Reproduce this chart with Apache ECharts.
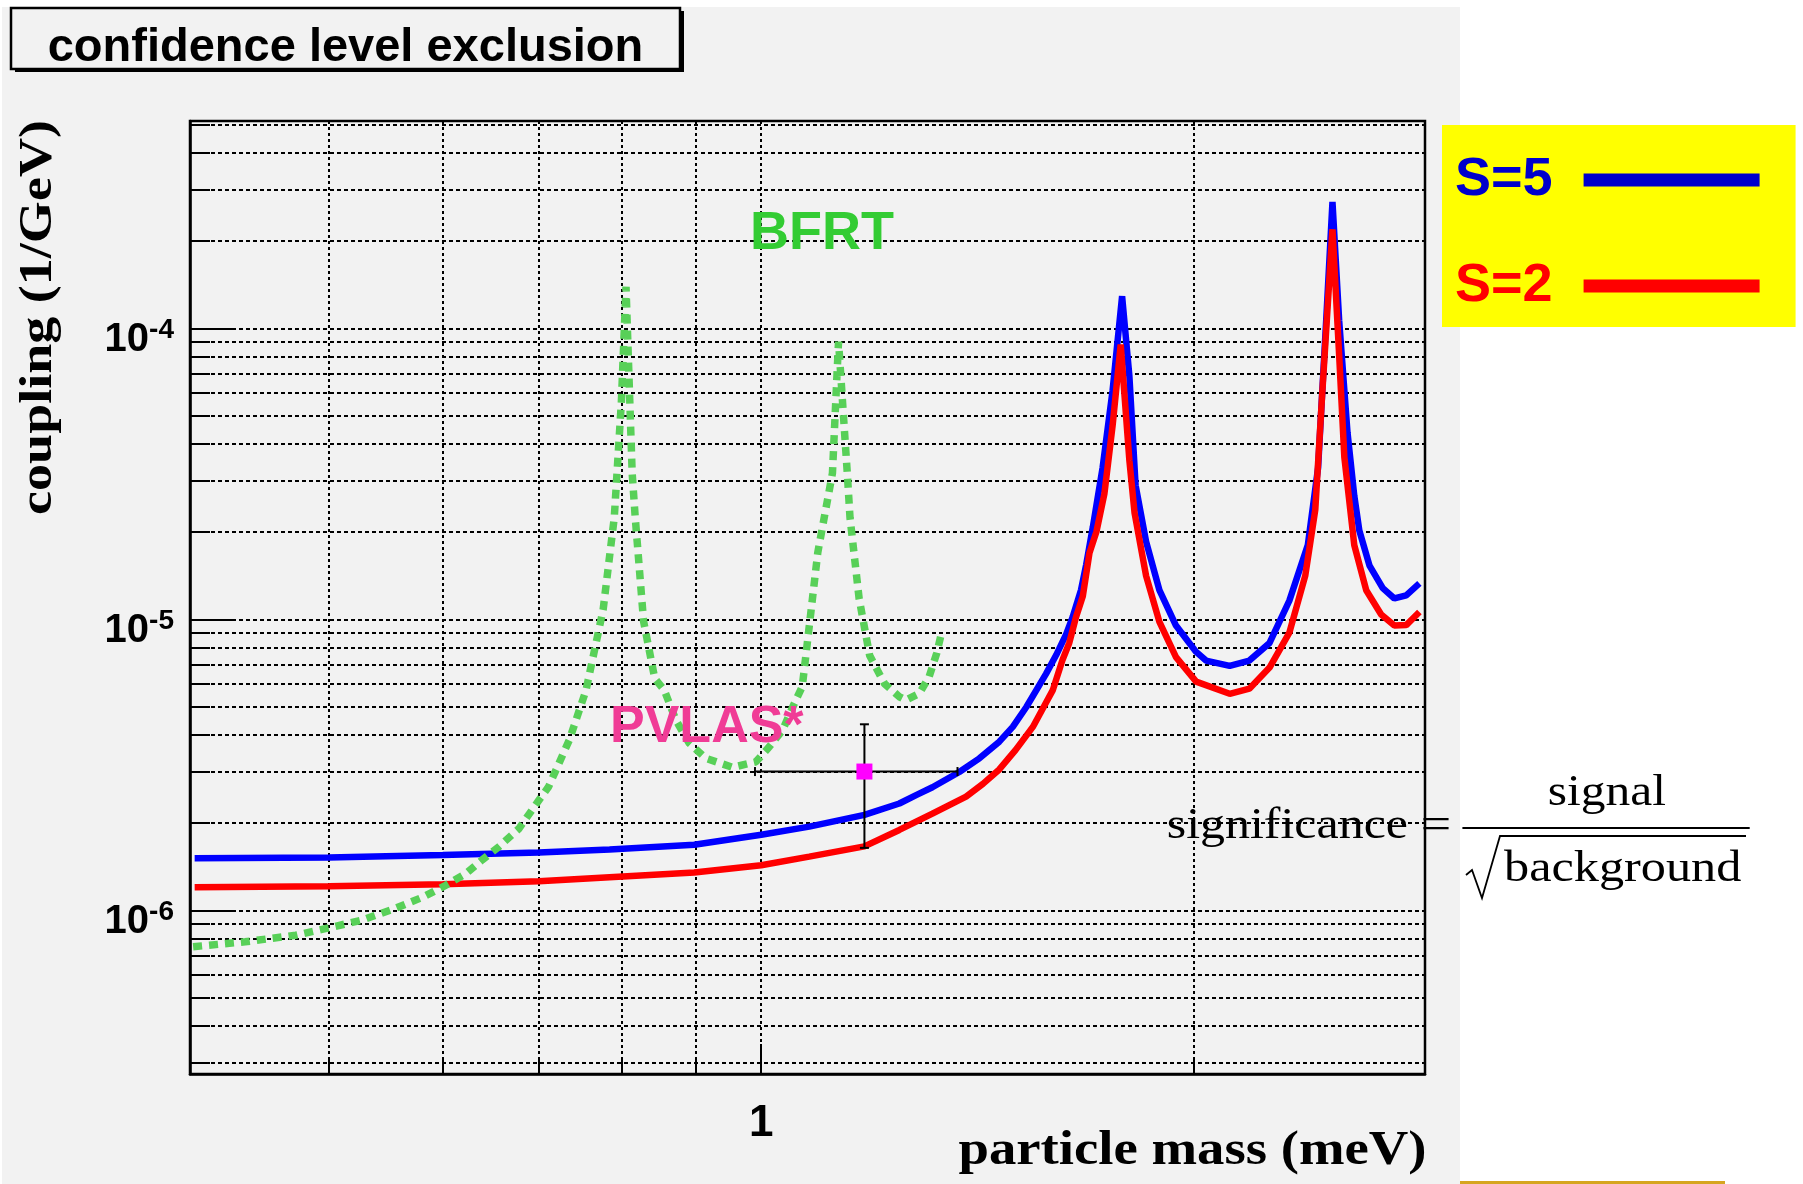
<!DOCTYPE html>
<html>
<head>
<meta charset="utf-8">
<script src="https://cdn.jsdelivr.net/npm/echarts@6/dist/echarts.min.js"></script>
<style>
html,body{margin:0;padding:0;background:#ffffff;}
#chart{width:1803px;height:1184px;}
</style>
</head>
<body>
<div id="chart"></div>
<script>
// ---------------- data ----------------
const massS5 = [0.403,0.50,0.60,0.70,0.784,0.898,1.0,1.080,1.18,1.248,1.282,1.316,1.374,1.419,1.465,1.497,1.53,1.579,1.605,1.631,1.648,1.670,1.684,1.702,1.729,1.757,1.784,1.805,1.823,1.854,1.894,1.945,2.009,2.041,2.12,2.188,2.26,2.333,2.403,2.443,2.475,2.50,2.527,2.561,2.589,2.61,2.653,2.71,2.761,2.814,2.874];
const couplingS5 = [1.51e-6,1.52e-6,1.55e-6,1.58e-6,1.62e-6,1.68e-6,1.82e-6,1.94e-6,2.13e-6,2.33e-6,2.49e-6,2.65e-6,2.99e-6,3.33e-6,3.8e-6,4.27e-6,5.0e-6,6.5e-6,7.54e-6,8.9e-6,1.02e-5,1.26e-5,1.54e-5,2.07e-5,3.32e-5,6.12e-5,1.29e-4,6.84e-5,2.89e-5,1.85e-5,1.26e-5,9.52e-6,7.73e-6,7.22e-6,6.92e-6,7.22e-6,8.3e-6,1.16e-5,1.8e-5,3.32e-5,1.07e-4,2.72e-4,1.065e-4,4.39e-5,2.66e-5,2.02e-5,1.53e-5,1.28e-5,1.18e-5,1.21e-5,1.33e-5];

const massS2 = [0.403,0.50,0.60,0.70,0.784,0.898,1.0,1.080,1.18,1.248,1.316,1.389,1.427,1.465,1.504,1.546,1.571,1.596,1.621,1.639,1.657,1.675,1.693,1.712,1.734,1.757,1.78,1.805,1.82,1.854,1.894,1.945,2.009,2.12,2.188,2.26,2.333,2.393,2.432,2.46,2.50,2.527,2.548,2.589,2.639,2.703,2.761,2.814,2.874];
const couplingS2 = [1.20e-6,1.21e-6,1.23e-6,1.26e-6,1.30e-6,1.35e-6,1.43e-6,1.53e-6,1.66e-6,1.89e-6,2.15e-6,2.46e-6,2.72e-6,3.05e-6,3.56e-6,4.27e-6,4.94e-6,5.7e-6,7.24e-6,8.3e-6,1.02e-5,1.2e-5,1.69e-5,2.0e-5,2.7e-5,4.63e-5,8.8e-5,3.51e-5,2.32e-5,1.41e-5,9.8e-6,7.42e-6,6.11e-6,5.55e-6,5.78e-6,6.83e-6,9.0e-6,1.41e-5,2.38e-5,6.12e-5,2.19e-4,8.07e-5,3.61e-5,1.8e-5,1.26e-5,1.04e-5,9.52e-6,9.56e-6,1.06e-5];

const massBFRT = [0.402,0.437,0.474,0.50,0.527,0.556,0.581,0.603,0.623,0.639,0.657,0.678,0.700,0.711,0.735,0.755,0.776,0.790,0.799,0.805,0.813,0.817,0.828,0.843,0.856,0.872,0.891,0.915,0.955,0.9915,1.013,1.035,1.057,1.068,1.095,1.121,1.132,1.148,1.153,1.170,1.19,1.219,1.248,1.261,1.289,1.309,1.325,1.336];
const couplingBFRT = [7.5e-7,7.8e-7,8.22e-7,8.71e-7,9.26e-7,1.016e-6,1.11e-6,1.22e-6,1.34e-6,1.49e-6,1.66e-6,1.91e-6,2.39e-6,2.66e-6,3.85e-6,5.71e-6,1.08e-5,2.24e-5,5.56e-5,1.39e-4,3.18e-5,2.24e-5,9.86e-6,6.26e-6,5.71e-6,4.51e-6,3.75e-6,3.33e-6,3.10e-6,3.24e-6,3.65e-6,4.17e-6,5.28e-6,5.87e-6,1.7e-5,3.18e-5,9.0e-5,3.18e-5,2.24e-5,1.18e-5,7.51e-6,6.0e-6,5.42e-6,5.28e-6,5.57e-6,6.35e-6,7.64e-6,9.07e-6];

// PVLAS point: mass, coupling, mass low, mass high, coupling low, coupling high
const pvlasPoint = [1.18, 3.0e-6, 0.99, 1.37, 1.64e-6, 4.36e-6];

const seriesNames = ['S=5', 'S=2', 'BFRT', 'PVLAS*'];
const xTickLabels = ['1'];
const yTickExponents = [-6, -5, -4];
const xRange = [0.4, 2.9];
const yRange = [2.74e-7, 5.16e-4];

// ---------------- helpers ----------------
const SANS = '"Liberation Sans", Arial, Helvetica, sans-serif';
const SERIF = '"Liberation Serif", "Times New Roman", Times, serif';
const zip = (a, b) => a.map((v, i) => [v, b[i]]);

const chart = echarts.init(document.getElementById('chart'), null, {renderer: 'canvas'});

function textEl(text, x, y, font, fill, opts) {
  opts = opts || {};
  return Object.assign({
    type: 'text', x: x, y: y, z: 50,
    style: {text: text, font: font, fill: fill, align: opts.align || 'left', verticalAlign: 'middle'}
  }, opts.extra || {});
}

const option = {
  backgroundColor: '#ffffff',
  animation: false,
  grid: {left: 190, top: 121, width: 1235, height: 953, show: true,
         borderColor: '#000', borderWidth: 2.5, backgroundColor: '#f2f2f2'},
  legend: {
    orient: 'vertical', left: 1442, top: 125, align: 'right',
    backgroundColor: '#ffff00', padding: [28, 36, 14, 13],
    itemGap: 52, itemWidth: 176, itemHeight: 13, icon: 'rect', selectedMode: false,
    textStyle: {fontSize: 54, fontWeight: 'bold', fontFamily: SANS, lineHeight: 54, padding: [0, 26, 0, 0]},
    data: [
      {name: seriesNames[0], textStyle: {color: '#0000cc'}, itemStyle: {color: '#0000cc'}},
      {name: seriesNames[1], textStyle: {color: '#ff0000'}, itemStyle: {color: '#ff0000'}}
    ]
  },
  xAxis: {
    type: 'log', logBase: 10, min: xRange[0], max: xRange[1],
    axisLine: {show: true, lineStyle: {color: '#000', width: 2.5}},
    axisTick: {show: true, inside: true, length: 30, lineStyle: {color: '#000', width: 2}},
    minorTick: {show: true, splitNumber: 9, length: 15, lineStyle: {color: '#000', width: 2}},
    splitLine: {show: true, lineStyle: {color: '#000', width: 2, type: [3, 3]}},
    minorSplitLine: {show: true, lineStyle: {color: '#000', width: 2, type: [3, 3]}},
    axisLabel: {
      margin: 28, fontSize: 44, fontWeight: 'bold', color: '#000', fontFamily: SANS,
      formatter: v => (Math.abs(v - 1) < 1e-9 ? xTickLabels[0] : '')
    }
  },
  yAxis: {
    type: 'log', logBase: 10, min: yRange[0], max: yRange[1],
    axisLine: {show: true, lineStyle: {color: '#000', width: 2.5}},
    axisTick: {show: true, inside: true, length: 42, lineStyle: {color: '#000', width: 2}},
    minorTick: {show: true, splitNumber: 9, length: 20, lineStyle: {color: '#000', width: 2}},
    splitLine: {show: true, lineStyle: {color: '#000', width: 2, type: [4, 3]}},
    minorSplitLine: {show: true, lineStyle: {color: '#000', width: 2, type: [4, 3]}},
    axisLabel: {
      margin: 16, color: '#000', fontFamily: SANS, fontWeight: 'bold', padding: [20, 0, 0, 0],
      formatter: v => {
        const l = Math.log10(v), e = Math.round(l);
        if (Math.abs(l - e) > 1e-6 || yTickExponents.indexOf(e) < 0) return '';
        return '{a|10}{b|' + e + '}';
      },
      rich: {
        a: {fontSize: 40, fontWeight: 'bold', fontFamily: SANS, color: '#000', padding: [4, 0, 0, 0], verticalAlign: 'bottom'},
        b: {fontSize: 28, fontWeight: 'bold', fontFamily: SANS, color: '#000', verticalAlign: 'top'}
      }
    }
  },
  series: [
    {name: seriesNames[0], type: 'line', data: zip(massS5, couplingS5), showSymbol: false, z: 3,
     lineStyle: {color: '#0000ff', width: 6.5}, itemStyle: {color: '#0000cc'}},
    {name: seriesNames[1], type: 'line', data: zip(massS2, couplingS2), showSymbol: false, z: 3,
     lineStyle: {color: '#ff0000', width: 6.5}, itemStyle: {color: '#ff0000'}},
    {name: seriesNames[2], type: 'line', data: zip(massBFRT, couplingBFRT), showSymbol: false, z: 4,
     lineStyle: {color: '#58d058', width: 7.5, type: [9, 7]}, itemStyle: {color: '#58d058'}},
    {name: seriesNames[3], type: 'custom', z: 5, data: [pvlasPoint], encode: {x: 0, y: 1},
     renderItem: (params, api) => {
       const c = api.coord([api.value(0), api.value(1)]);
       const l = api.coord([api.value(2), api.value(1)]);
       const r = api.coord([api.value(3), api.value(1)]);
       const lo = api.coord([api.value(0), api.value(4)]);
       const hi = api.coord([api.value(0), api.value(5)]);
       const cap = 4.5, s = 8;
       const ls = {stroke: '#000', lineWidth: 2};
       return {type: 'group', children: [
         {type: 'line', shape: {x1: l[0], y1: l[1], x2: r[0], y2: r[1]}, style: ls},
         {type: 'line', shape: {x1: l[0], y1: l[1] - cap, x2: l[0], y2: l[1] + cap}, style: ls},
         {type: 'line', shape: {x1: r[0], y1: r[1] - cap, x2: r[0], y2: r[1] + cap}, style: ls},
         {type: 'line', shape: {x1: lo[0], y1: lo[1], x2: hi[0], y2: hi[1]}, style: ls},
         {type: 'line', shape: {x1: lo[0] - cap, y1: lo[1], x2: lo[0] + cap, y2: lo[1]}, style: ls},
         {type: 'line', shape: {x1: hi[0] - cap, y1: hi[1], x2: hi[0] + cap, y2: hi[1]}, style: ls},
         {type: 'rect', shape: {x: c[0] - s, y: c[1] - s, width: 2 * s, height: 2 * s}, style: {fill: '#ff00ff'}}
       ]};
     }}
  ],
  graphic: {elements: [
    // ROOT canvas background
    {type: 'rect', z: -100, shape: {x: 2, y: 7, width: 1458, height: 1177}, style: {fill: '#f2f2f2'}},
    // slide decoration line
    {type: 'rect', z: -90, shape: {x: 1460, y: 1181, width: 265, height: 3}, style: {fill: '#d6a520'}},
    // title box with shadow
    {type: 'rect', z: 40, shape: {x: 15, y: 11, width: 669, height: 61}, style: {fill: '#000'}},
    {type: 'rect', z: 41, shape: {x: 11, y: 8, width: 669, height: 61}, style: {fill: '#f2f2f2', stroke: '#000', lineWidth: 2.5}},
    textEl('confidence level exclusion', 345.5, 48.5, 'bold 47px ' + SANS, '#000', {align: 'center'}),
    // axis titles
    textEl('coupling (1/GeV)', 39.5, 317.5, 'bold 46px ' + SERIF, '#000',
           {align: 'center', extra: {rotation: Math.PI / 2, scaleX: 1.175}}),
    textEl('particle mass (meV)', 1426.6, 1151.5, 'bold 49px ' + SERIF, '#000',
           {align: 'right', extra: {scaleX: 1.117}}),
    // in-plot labels
    textEl('BFRT', 750, 234, 'bold 54px ' + SANS, '#33cc33'),
    textEl('PVLAS*', 610, 728, 'bold 52px ' + SANS, '#f03c96'),
    // significance formula
    textEl('significance', 1166.7, 826, '45px ' + SERIF, '#000', {extra: {scaleX: 1.11}}),
    textEl('=', 1436, 826, '45px ' + SERIF, '#000', {align: 'center', extra: {scaleX: 1.2}}),
    {type: 'rect', z: 50, shape: {x: 1462.4, y: 827, width: 287.3, height: 2}, style: {fill: '#000'}},
    textEl('signal', 1547.7, 793, '45px ' + SERIF, '#000', {extra: {scaleX: 1.1}}),
    {type: 'polyline', z: 50, shape: {points: [[1466, 875], [1472, 870], [1482, 898], [1500, 836], [1746, 836]]},
     style: {stroke: '#000', lineWidth: 1.8, fill: null}},
    textEl('background', 1504, 869.5, '45px ' + SERIF, '#000', {extra: {scaleX: 1.117}})
  ]}
};

chart.setOption(option);
</script>
</body>
</html>
